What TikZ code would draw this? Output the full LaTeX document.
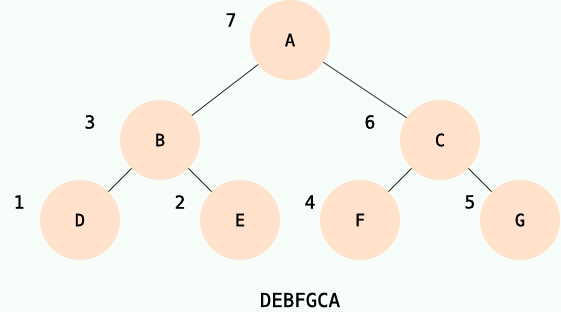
\documentclass[tikz,border=0pt]{standalone}
\usepackage{fontspec}
\setmonofont[FakeBold=1.2,AutoFakeBold=1.2]{DejaVu Sans Mono}
\newfontfamily\heavymono[FakeBold=1.2]{DejaVu Sans Mono}
\definecolor{bgc}{HTML}{F7FDF9}
\definecolor{peach}{HTML}{FFE1CC}
\tikzset{
  tnode/.style={circle, fill=peach, minimum size=80pt, inner sep=0pt, font=\heavymono\fontsize{17}{17}\selectfont},
  ordlabel/.style={font=\heavymono\fontsize{18}{18}\selectfont, inner sep=0pt},
  edge/.style={draw=black!85, line width=0.8pt}
}
\begin{document}
\begin{tikzpicture}[x=1pt,y=-1pt]
\fill[bgc] (0,0) rectangle (561,313);
\useasboundingbox (0,0) rectangle (561,313);
\coordinate (pA) at (290,40);
\coordinate (pB) at (160,140);
\coordinate (pC) at (440,140);
\coordinate (pD) at (80,220);
\coordinate (pE) at (240,220);
\coordinate (pF) at (360,220);
\coordinate (pG) at (520,220);
\draw[edge] (pA) -- (pB);
\draw[edge] (pA) -- (pC);
\draw[edge] (pB) -- (pD);
\draw[edge] (pB) -- (pE);
\draw[edge] (pC) -- (pF);
\draw[edge] (pC) -- (pG);
\node[tnode] (A) at (pA) {A};
\node[tnode] (B) at (pB) {B};
\node[tnode] (C) at (pC) {C};
\node[tnode] (D) at (pD) {D};
\node[tnode] (E) at (pE) {E};
\node[tnode] (F) at (pF) {F};
\node[tnode] (G) at (pG) {G};
\node[ordlabel] (n7) at (231,20) {7};
\node[ordlabel] (n3) at (90,122) {3};
\node[ordlabel] (n6) at (370,122) {6};
\node[ordlabel] (n1) at (19,202) {1};
\node[ordlabel] (n2) at (180,202) {2};
\node[ordlabel] (n4) at (310,202) {4};
\node[ordlabel] (n5) at (470,202) {5};
\node[font=\heavymono\fontsize{19}{19}\selectfont, inner sep=0pt] (seq) at (300,300) {DEBFGCA};
\end{tikzpicture}
\end{document}
